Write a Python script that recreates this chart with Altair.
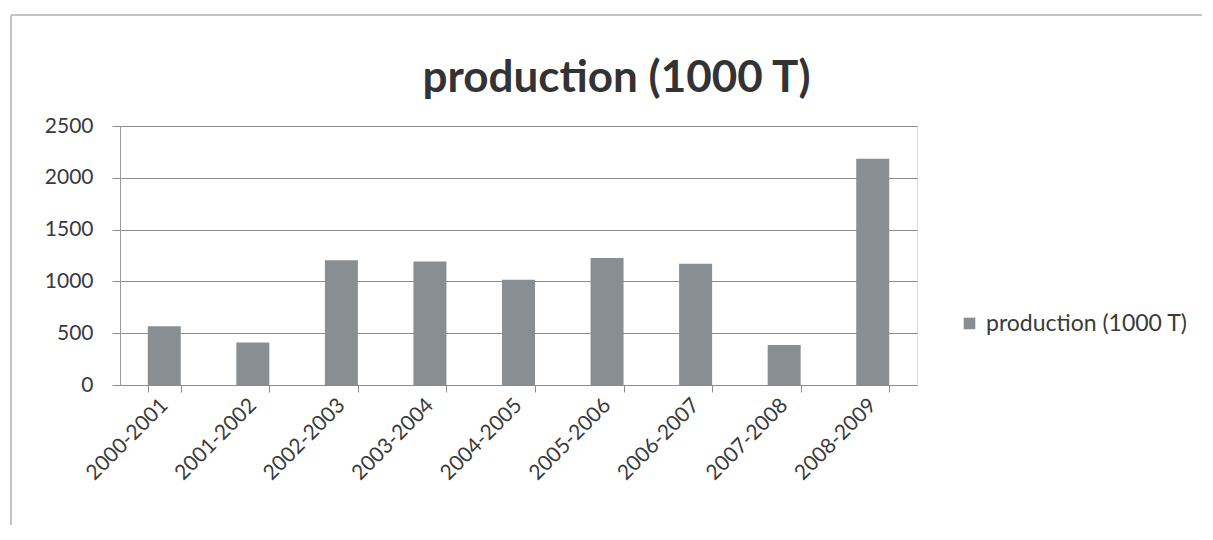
import altair as alt
import pandas as pd

seasons = ["2000-2001", "2001-2002", "2002-2003", "2003-2004", "2004-2005",
           "2005-2006", "2006-2007", "2007-2008", "2008-2009"]
production = [566, 411, 1205, 1192, 1017, 1227, 1170, 386, 2185]
series_name = "production (1000 T)"
y_ticks = [0, 500, 1000, 1500, 2000, 2500]

df = pd.DataFrame({"season": seasons, "production": production, "series": series_name})

FONT = "Lato"
TEXT = "#3a3a3a"

bars = alt.Chart(df).mark_bar(size=33).encode(
    x=alt.X("season:N", sort=seasons,
            scale=alt.Scale(paddingInner=0.628, paddingOuter=0.314),
            axis=alt.Axis(title=None, labelAngle=-45, labelAlign="right", labelBaseline="middle",
                          labelFont=FONT, labelFontSize=21, labelColor=TEXT, labelPadding=10,
                          tickBand="extent", tickSize=7, tickColor="#8c8c8c",
                          domainColor="#8c8c8c", grid=False)),
    y=alt.Y("production:Q", scale=alt.Scale(domain=[0, 2500], nice=False),
            axis=alt.Axis(title=None, values=y_ticks, format="d", labelFont=FONT, labelFontSize=21,
                          labelColor=TEXT, labelPadding=19, tickSize=8, tickColor="#8c8c8c",
                          domainColor="#9a9a9a", gridColor="#8c8c8c", gridWidth=1)),
    color=alt.Color("series:N", scale=alt.Scale(domain=[series_name], range=["#898e93"]),
                    legend=alt.Legend(title=None, orient="none", legendX=838, legendY=186,
                                      symbolType="square", symbolSize=135, symbolStrokeWidth=0,
                                      labelFont=FONT, labelFontSize=23, labelColor=TEXT,
                                      labelOffset=5, labelLimit=320)),
)

border_left = alt.Chart(df).mark_rule(color="#c4c4c4", strokeWidth=1).encode(
    x=alt.value(-109), y=alt.value(-111), y2=alt.value(420))
border_top = alt.Chart(df).mark_rule(color="#c4c4c4", strokeWidth=1).encode(
    x=alt.value(-109), x2=alt.value(1100), y=alt.value(-111))

chart = alt.layer(border_left, border_top, bars).properties(
    width=797, height=259,
    title=alt.TitleParams(series_name, font=FONT, fontSize=44, fontWeight="bold",
                          color="#333333", anchor="middle", dx=98, offset=-121,
                          baseline="alphabetic"),
    autosize=alt.AutoSizeParams(type="none"),
    padding={"left": 112, "top": 118, "right": 285, "bottom": 140},
).configure_view(stroke=None).configure(background="white")

chart.save("out.html", embed_options={"renderer": "svg", "actions": False})
